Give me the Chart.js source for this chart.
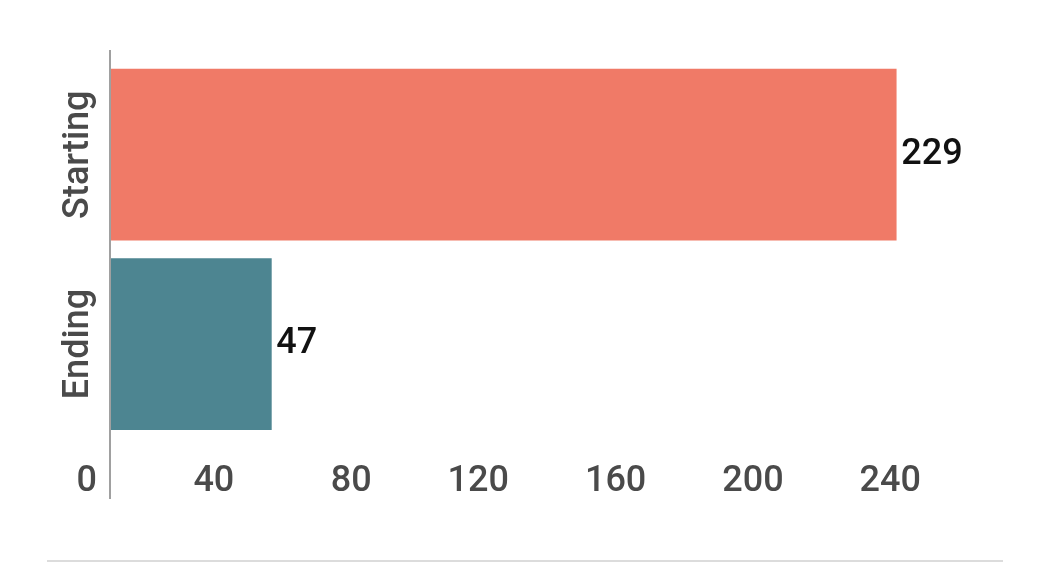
<!DOCTYPE html>
<html>
<head>
<meta charset="utf-8">
<script src="https://cdn.jsdelivr.net/npm/chart.js@4/dist/chart.umd.min.js"></script>
<style>
  html, body { margin: 0; padding: 0; background: #fff; }
  #wrap { position: relative; width: 1048px; height: 586px; }
  #sep { position: absolute; left: 47px; top: 560px; width: 956px; height: 2px; background: #dcdcdc; }
</style>
</head>
<body>
<div id="wrap">
  <canvas id="chart" width="1048" height="586"></canvas>
  <div id="sep"></div>
</div>
<script>
// data
const categories = ['Starting', 'Ending'];
const values = [229, 47];
const barColors = ['#F07A67', '#4D8591'];
const xTicks = [0, 40, 80, 120, 160, 200, 240];

const FONT = 'Roboto, "Noto Sans", sans-serif';
const TEXT_GREY = '#4a4a4a';

// value labels at bar ends + rotated category labels + left axis line
const extras = {
  id: 'extras',
  afterDatasetsDraw(chart) {
    const ctx = chart.ctx;
    const meta = chart.getDatasetMeta(0);
    const yScale = chart.scales.y;
    const area = chart.chartArea;
    ctx.save();

    // value labels
    ctx.font = '500 36px ' + FONT;
    ctx.fillStyle = '#111';
    ctx.textAlign = 'left';
    ctx.textBaseline = 'middle';
    meta.data.forEach((bar, i) => {
      ctx.fillText(String(values[i]), bar.x + 5, bar.y);
    });

    // category labels, reading bottom to top
    ctx.fillStyle = TEXT_GREY;
    ctx.textAlign = 'center';
    ctx.textBaseline = 'alphabetic';
    categories.forEach((c, i) => {
      const y = yScale.getPixelForValue(i);
      ctx.save();
      ctx.translate(area.left - 22, y);
      ctx.rotate(-Math.PI / 2);
      ctx.fillText(c, 0, 0);
      ctx.restore();
    });

    // axis line
    ctx.strokeStyle = '#a0a0a0';
    ctx.lineWidth = 2;
    ctx.beginPath();
    ctx.moveTo(area.left, 50);
    ctx.lineTo(area.left, 499);
    ctx.stroke();
    ctx.restore();
  }
};

new Chart(document.getElementById('chart'), {
  type: 'bar',
  data: {
    labels: categories,
    datasets: [{
      data: values,
      backgroundColor: barColors,
      borderWidth: 0,
      barThickness: 171
    }]
  },
  options: {
    indexAxis: 'y',
    responsive: false,
    animation: false,
    layout: { padding: { left: 110, right: 114, top: 60, bottom: 68 } },
    plugins: {
      legend: { display: false },
      tooltip: { enabled: false }
    },
    scales: {
      x: {
        min: 0,
        max: 240,
        afterBuildTicks: (scale) => { scale.ticks = xTicks.map(v => ({ value: v })); },
        grid: { display: false },
        border: { display: false },
        ticks: {
          align: 'end',
          labelOffset: -13,
          padding: 14,
          color: TEXT_GREY,
          font: { family: FONT, size: 36, weight: '500' }
        }
      },
      y: {
        display: false
      }
    }
  },
  plugins: [extras]
});
</script>
</body>
</html>
